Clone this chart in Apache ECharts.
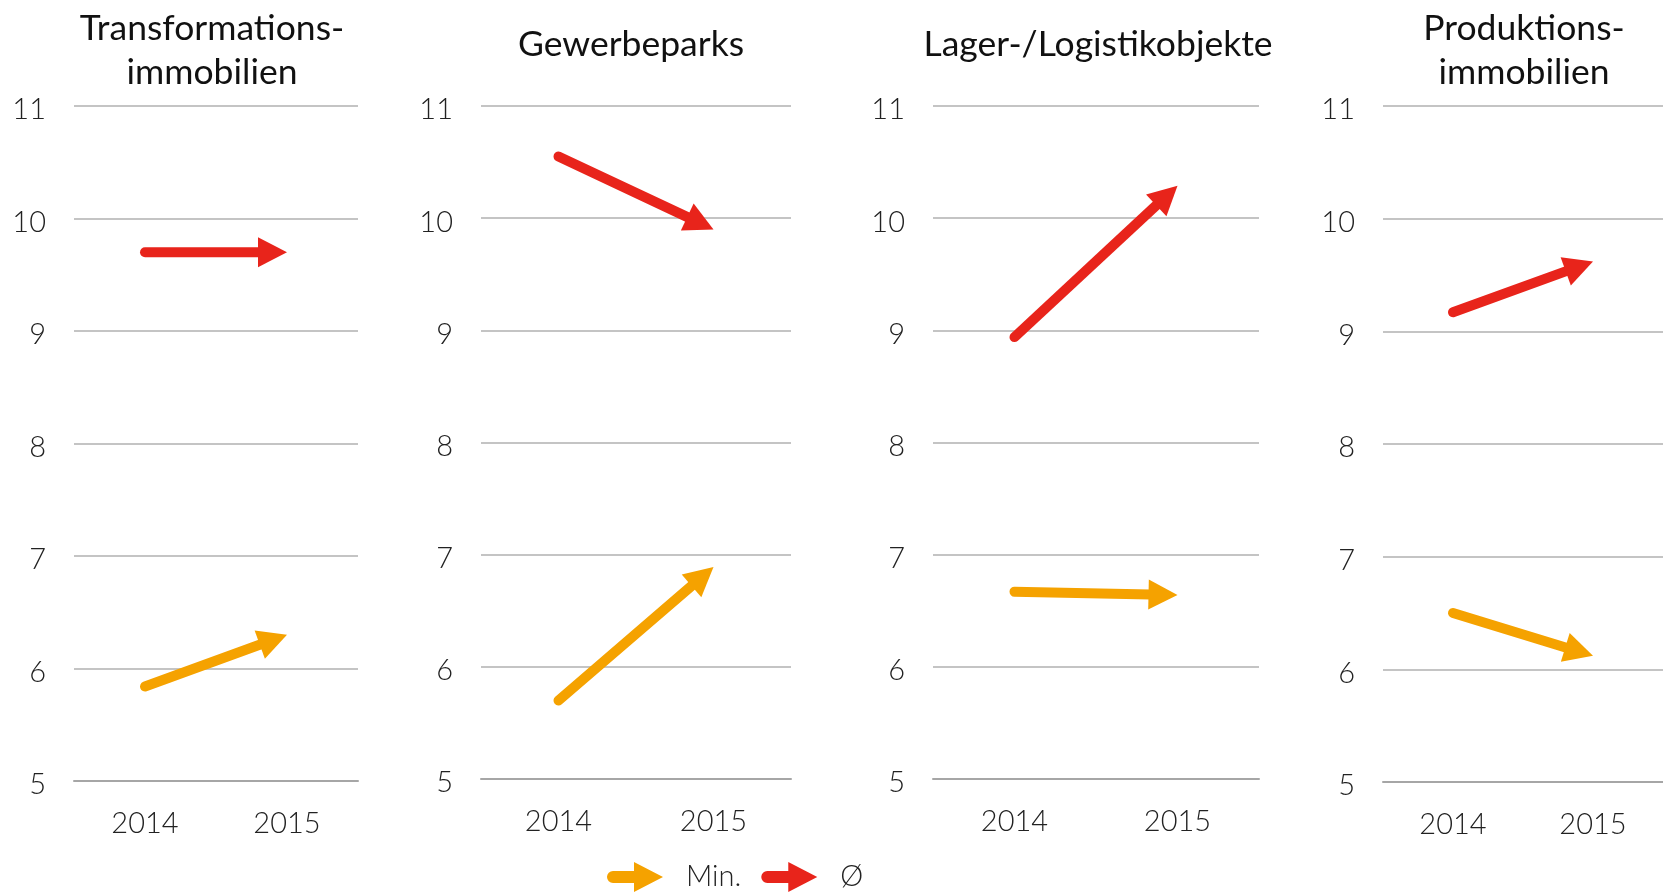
<!DOCTYPE html>
<html>
<head>
<meta charset="utf-8">
<script src="https://cdn.jsdelivr.net/npm/echarts@6/dist/echarts.min.js"></script>
<style>
  html, body { margin: 0; padding: 0; background: #fff; }
  #main { width: 1663px; height: 892px; }
</style>
</head>
<body>
<div id="main"></div>
<script>
// chart data
var years = ['2014', '2015'];
var titles = ['Transformations-\nimmobilien', 'Gewerbeparks', 'Lager-/Logistikobjekte', 'Produktions-\nimmobilien'];
var seriesNames = ['Min.', 'Ø'];
var minValues = [[5.84, 6.30], [5.70, 6.89], [6.67, 6.64], [6.50, 6.12]];
var avgValues = [[9.70, 9.70], [10.55, 9.90], [8.94, 10.29], [9.17, 9.62]];
var yTicks = [5, 6, 7, 8, 9, 10, 11];

// layout of the four small panels (px)
var panels = [
  {left: 74, width: 284, top: 106, height: 675, titleX: 212},
  {left: 481, width: 310, top: 106, height: 673, titleX: 631},
  {left: 933, width: 326, top: 106, height: 673, titleX: 1098},
  {left: 1383, width: 292, top: 106, height: 676, titleX: 1524}
];
var orange = '#f5a200';
var red = '#e8241b';
var font = 'Lato';
var arrowIcon = 'path://M6,9 L27,9 L27,0 L56,15 L27,30 L27,21 L6,21 A6,6 0 0 1 6,9 Z';

let chart = echarts.init(document.getElementById('main'));

function renderArrow(params, api) {
  var p0 = api.coord([api.value(0), api.value(1)]);
  var p1 = api.coord([api.value(2), api.value(3)]);
  var dx = p1[0] - p0[0], dy = p1[1] - p0[1];
  var len = Math.sqrt(dx * dx + dy * dy);
  var ux = dx / len, uy = dy / len;
  var headLen = 29, headW = 30;
  var bx = p1[0] - ux * headLen, by = p1[1] - uy * headLen;
  var nx = -uy, ny = ux;
  var color = api.visual('color');
  return {
    type: 'group',
    children: [{
      type: 'line',
      shape: {x1: p0[0], y1: p0[1], x2: bx + ux * 2, y2: by + uy * 2},
      style: {stroke: color, lineWidth: 10, lineCap: 'round'}
    }, {
      type: 'polygon',
      shape: {points: [[p1[0], p1[1]], [bx + nx * headW / 2, by + ny * headW / 2], [bx - nx * headW / 2, by - ny * headW / 2]]},
      style: {fill: color}
    }]
  };
}

var grid = [], xAxis = [], yAxis = [], title = [], series = [];
panels.forEach(function (p, i) {
  grid.push({left: p.left, top: p.top, width: p.width, height: p.height});
  var twoLines = titles[i].indexOf('\n') >= 0;
  title.push({
    text: titles[i],
    left: p.titleX,
    top: twoLines ? 7 : 23,
    textAlign: 'center',
    padding: 0,
    textStyle: {fontFamily: font, fontWeight: 400, fontSize: 35.5, lineHeight: 44, color: '#111'}
  });
  xAxis.push({
    type: 'category',
    gridIndex: i,
    data: years,
    boundaryGap: true,
    axisTick: {show: false},
    axisLine: {lineStyle: {color: '#a6a6a6', width: 2}},
    axisLabel: {fontFamily: font, fontWeight: 300, fontSize: 29, color: '#222', margin: 28}
  });
  yAxis.push({
    type: 'value',
    gridIndex: i,
    min: yTicks[0],
    max: yTicks[yTicks.length - 1],
    interval: 1,
    axisLine: {show: false},
    axisTick: {show: false},
    splitLine: {lineStyle: {color: '#c4c4c4', width: 2}},
    axisLabel: {
      margin: 28,
      formatter: '{v|{value}}',
      rich: {v: {fontFamily: font, fontWeight: 300, fontSize: 29, color: '#222', padding: [8, 0, 0, 0]}}
    }
  });
  series.push({
    name: seriesNames[0],
    type: 'custom',
    xAxisIndex: i,
    yAxisIndex: i,
    itemStyle: {color: orange},
    encode: {x: [0, 2], y: [1, 3]},
    renderItem: renderArrow,
    data: [[0, minValues[i][0], 1, minValues[i][1]]]
  });
  series.push({
    name: seriesNames[1],
    type: 'custom',
    xAxisIndex: i,
    yAxisIndex: i,
    itemStyle: {color: red},
    encode: {x: [0, 2], y: [1, 3]},
    renderItem: renderArrow,
    data: [[0, avgValues[i][0], 1, avgValues[i][1]]]
  });
});

let option = {
  animation: false,
  backgroundColor: '#fff',
  title: title,
  legend: {
    left: 607,
    top: 862,
    itemWidth: 56,
    itemHeight: 30,
    itemGap: 20,
    padding: 0,
    textStyle: {fontFamily: font, fontWeight: 300, fontSize: 29, color: '#222', padding: [0, 0, 0, 18]},
    data: [{name: seriesNames[0], icon: arrowIcon}, {name: seriesNames[1], icon: arrowIcon}]
  },
  grid: grid,
  xAxis: xAxis,
  yAxis: yAxis,
  series: series
};

chart.setOption(option);
</script>
</body>
</html>
